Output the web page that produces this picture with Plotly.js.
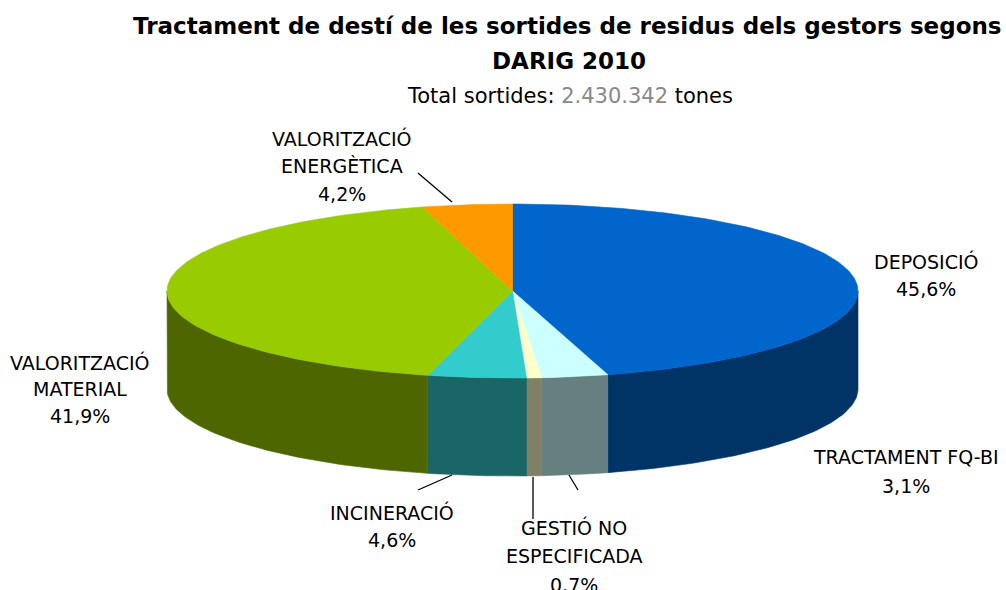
<!DOCTYPE html>
<html>
<head>
<meta charset="utf-8">
<script src="https://cdn.plot.ly/plotly-3.0.1.min.js"></script>
<style>html,body{margin:0;padding:0;background:#fff;}#chart{width:1006px;height:590px;}</style>
</head>
<body>
<div id="chart"></div>
<script>
// ---- data ----
const categories = ['DEPOSICIÓ', 'TRACTAMENT FQ-BI', 'GESTIÓ NO ESPECIFICADA', 'INCINERACIÓ', 'VALORITZACIÓ MATERIAL', 'VALORITZACIÓ ENERGÈTICA'];
const labelLines = [['DEPOSICIÓ'], ['TRACTAMENT FQ-BI'], ['GESTIÓ NO', 'ESPECIFICADA'], ['INCINERACIÓ'], ['VALORITZACIÓ', 'MATERIAL'], ['VALORITZACIÓ', 'ENERGÈTICA']];
const percents = [45.6, 3.1, 0.7, 4.6, 41.9, 4.2];
const titleLines = ['Tractament de destí de les sortides de residus dels gestors segons', 'DARIG 2010'];
const subtitlePrefix = 'Total sortides: ';
const totalSortides = '2.430.342';
const subtitleSuffix = ' tones';

// ---- styles / layout constants ----
const topColors = ['#0066CC', '#CCFFFF', '#FFFFCC', '#33CCCC', '#99CC00', '#FF9900'];
const sideColors = ['#003366', '#668080', '#808066', '#1A6666', '#4D6600', '#804D00'];
const PIE = {cx: 512.5, cy: 291, rx: 345.5, ry: 87, depth: 98};
// label anchor: x center, y of first line (caps center), line spacing
const labelPos = [
  {x: 926, y: 261, dy: 28},
  {x: 906, y: 457, dy: 29},
  {x: 574, y: 527, dy: 29},
  {x: 392, y: 512, dy: 28},
  {x: 80, y: 362, dy: 27},
  {x: 342, y: 138, dy: 28}
];
// leader lines (label end -> slice end), null where none
const leaders = [null, [[578, 490], [569, 475]], [[533, 519], [533, 477]], [[418, 490], [452, 475]], null, [[418, 173], [452, 202]]];
const FONT = 'DejaVu Sans';

function pt(theta, dy) {
  return [PIE.cx + PIE.rx * Math.sin(theta), PIE.cy - PIE.ry * Math.cos(theta) + (dy || 0)];
}
function arc(a1, a2, dy) {
  const n = Math.max(2, Math.ceil((a2 - a1) / (Math.PI / 180)));
  const out = [];
  for (let i = 0; i <= n; i++) out.push(pt(a1 + (a2 - a1) * i / n, dy));
  return out;
}

const total = percents.reduce((a, b) => a + b, 0);
const angles = [];
let cum = 0;
percents.forEach(p => { const a1 = cum / total * 2 * Math.PI; cum += p; angles.push([a1, cum / total * 2 * Math.PI]); });

const traces = [];
// side faces (front half only)
angles.forEach(([a1, a2], i) => {
  const s = Math.max(a1, Math.PI / 2), e = Math.min(a2, 3 * Math.PI / 2);
  if (s >= e) return;
  const topEdge = arc(s, e, 0);
  const botEdge = arc(s, e, PIE.depth).reverse();
  const pts = topEdge.concat(botEdge);
  pts.push(pts[0]);
  traces.push({x: pts.map(p => p[0]), y: pts.map(p => p[1]), type: 'scatter', mode: 'lines', fill: 'toself',
    fillcolor: sideColors[i], line: {color: sideColors[i], width: 0.6}, hoverinfo: 'skip', showlegend: false});
});
// top faces
angles.forEach(([a1, a2], i) => {
  const pts = [[PIE.cx, PIE.cy]].concat(arc(a1, a2, 0));
  pts.push([PIE.cx, PIE.cy]);
  traces.push({x: pts.map(p => p[0]), y: pts.map(p => p[1]), type: 'scatter', mode: 'lines', fill: 'toself',
    fillcolor: topColors[i], line: {color: topColors[i], width: 0.6}, hoverinfo: 'skip', showlegend: false, name: categories[i]});
});
// leader lines
leaders.forEach(l => {
  if (!l) return;
  traces.push({x: l.map(p => p[0]), y: l.map(p => p[1]), type: 'scatter', mode: 'lines',
    line: {color: '#000000', width: 1.3}, hoverinfo: 'skip', showlegend: false});
});

const annotations = [];
function addText(text, x, y, size, color) {
  annotations.push({text: text, x: x, y: y, xref: 'x', yref: 'y', showarrow: false, xanchor: 'center', yanchor: 'middle',
    font: {family: FONT, size: size, color: color || '#000000'}});
}
labelLines.forEach((lines, i) => {
  const lp = labelPos[i];
  const all = lines.concat([percents[i].toFixed(1).replace('.', ',') + '%']);
  all.forEach((t, k) => addText(t, lp.x, lp.y + k * lp.dy, 19));
});
addText('<b>' + titleLines[0] + '</b>', 567, 26, 23);
addText('<b>' + titleLines[1] + '</b>', 569, 61, 23);
addText(subtitlePrefix + '<span style="color:#888888">' + totalSortides + '</span>' + subtitleSuffix, 570, 96, 21);

const layout = {
  width: 1006, height: 590,
  margin: {l: 0, r: 0, t: 0, b: 0, pad: 0},
  paper_bgcolor: '#ffffff', plot_bgcolor: '#ffffff',
  xaxis: {range: [0, 1006], visible: false, fixedrange: true},
  yaxis: {range: [590, 0], visible: false, fixedrange: true},
  showlegend: false,
  annotations: annotations
};
Plotly.newPlot('chart', traces, layout, {staticPlot: true, displayModeBar: false});
</script>
</body>
</html>
